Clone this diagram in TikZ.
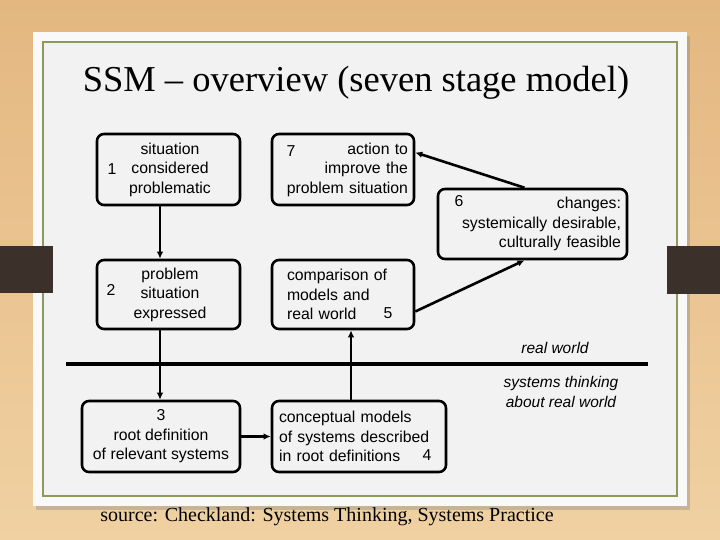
\documentclass[tikz,border=0pt]{standalone}
\usepackage{fontspec}
\setmainfont{Liberation Serif}
\setsansfont{Liberation Sans}
\usetikzlibrary{arrows.meta,calc,shadows}
\definecolor{SsmWoodTop}{HTML}{E4B780}
\definecolor{SsmWoodLow}{HTML}{F0D1A2}
\definecolor{SsmPaper}{HTML}{F2F2F2}
\definecolor{SsmEdge}{HTML}{F9F9F9}
\definecolor{SsmOlive}{HTML}{8C9A5E}
\definecolor{SsmTab}{HTML}{3B302A}
\tikzset{
  stagebox/.style={draw=black,line width=2.6pt,rounded corners=7pt,
    fill=SsmPaper,inner sep=0pt,align=center,
    font=\sffamily\fontsize{15.8}{19.5}\selectfont},
  numtag/.style={inner sep=0pt,font=\sffamily\fontsize{15.8}{19.5}\selectfont},
  flow/.style={-{Latex[length=7pt,width=6.5pt]},line width=2.6pt},
  worldtxt/.style={align=center,inner sep=0pt,
    font=\sffamily\itshape\fontsize{15.5}{20}\selectfont}
}
\begin{document}
\begin{tikzpicture}[x=1pt,y=-1pt]
  \useasboundingbox (0,0) rectangle (720,540);
  % slide background
  \shade[top color=SsmWoodTop,bottom color=SsmWoodLow] (0,0) rectangle (720,540);
  \fill[SsmEdge,drop shadow={shadow xshift=3pt,shadow yshift=-4pt,opacity=.35}]
    (33,32) rectangle (687,506);
  \fill[SsmPaper] (43,42) rectangle (677,496);
  \draw[SsmOlive,line width=1.6pt] (43,42) rectangle (677,496);
  \fill[SsmTab] (0,246) rectangle (53,293);
  \fill[SsmTab] (667,246) rectangle (720,294);

  \node[font=\rmfamily\fontsize{36.5}{40}\selectfont] (title) at (356,83)
    {SSM -- overview (seven stage model)};

  % stages
  \node[stagebox,minimum width=143,minimum height=71] (b1) at (168.5,169.5)
    {\hspace*{3pt}situation\\\hspace*{3pt}considered\\\hspace*{3pt}problematic};
  \node[stagebox,minimum width=143,minimum height=69] (b2) at (168.5,294.5)
    {\hspace*{3pt}problem\\\hspace*{3pt}situation\\\hspace*{3pt}expressed};
  \node[stagebox,minimum width=158,minimum height=71] (b3) at (161,436.5)
    {3\\root definition\\of relevant systems};
  \node[stagebox,minimum height=71,text width=160,inner xsep=7,align=left] (b4)
    at (359,436.5) {conceptual models\\of systems described\\in root definitions};
  \node[stagebox,minimum height=69,text width=112,inner xsep=15,align=left] (b5)
    at (343,294.5) {comparison of\\models and\\real world};
  \node[stagebox,minimum height=70,text width=177,inner xsep=6,align=right] (b6)
    at (532.5,224) {changes:\\systemically desirable,\\culturally feasible};
  \node[stagebox,minimum height=71,text width=130,inner xsep=6,align=right] (b7)
    at (343,169.5) {action to\\improve the\\problem situation};

  \node[numtag] (n1) at (112,169) {1};
  \node[numtag] (n2) at (111,290) {2};
  \node[numtag] (n4) at (427,455) {4};
  \node[numtag] (n5) at (388,313) {5};
  \node[numtag] (n6) at (459,201) {6};
  \node[numtag] (n7) at (291,151) {7};

  % real world / systems thinking divide
  \coordinate (rwL) at (66,364);
  \coordinate (rwR) at (648,364);
  \draw[line width=3.6pt] (rwL) -- (rwR);
  \node[worldtxt] (rw) at (555,348) {real world};
  \node[worldtxt] (st) at (561,392) {systems thinking\\about real world};

  % connectors
  \coordinate (lane1) at (160,0);
  \coordinate (lane4) at (351,0);
  \draw[flow] (b1.south -| lane1) -- (b2.north -| lane1);
  \draw[flow] (b2.south -| lane1) -- (b3.north -| lane1);
  \draw[flow] (b3.east) -- (b4.west);
  \draw[flow] (b4.north -| lane4) -- (b5.south -| lane4);
  \draw[flow] ($(b5.east)+(0,17)$) -- ($(b6.south)+(-8,0)$);
  \draw[flow] ($(b6.north)+(-8,0)$) -- ($(b7.east)+(0,-17)$);

  \node[font=\rmfamily\fontsize{20}{22}\selectfont] (src) at (327,517)
    {source: Checkland: Systems Thinking, Systems Practice};
\end{tikzpicture}
\end{document}
